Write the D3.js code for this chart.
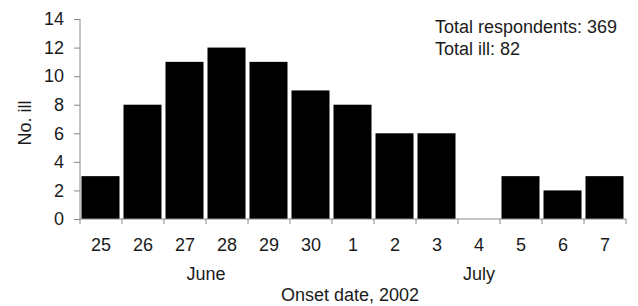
<!DOCTYPE html>
<html>
<head>
<meta charset="utf-8">
<script src="https://cdn.jsdelivr.net/npm/d3@7"></script>
<style>
  body { margin: 0; background: #fff; }
  svg text { font-family: "Liberation Sans", Arial, sans-serif; fill: #1a1a1a; }
</style>
</head>
<body>
<div id="chart"></div>
<script>
// onset days, 25 June .. 7 July 2002
var days = ["25", "26", "27", "28", "29", "30", "1", "2", "3", "4", "5", "6", "7"];
var ill = [3, 8, 11, 12, 11, 9, 8, 6, 6, 0, 3, 2, 3];
var months = [
  { name: "June", from: "25", to: "30" },
  { name: "July", from: "1", to: "7" }
];
var yTicks = [0, 2, 4, 6, 8, 10, 12, 14];
var notes = ["Total respondents: 369", "Total ill: 82"];

var W = 638, H = 306;
var plotL = 80, plotR = 626, plotT = 19, plotB = 219;
var fs = "18px";

var svg = d3.select("#chart").append("svg")
    .attr("width", W).attr("height", H);

var x = d3.scaleBand().domain(days).range([plotL, plotR]).padding(0);
var y = d3.scaleLinear().domain([0, 14]).range([plotB, plotT]);

var axisCol = "#8a8a8a";

// bars
svg.selectAll("rect.bar").data(ill).enter().append("rect")
    .attr("class", "bar")
    .attr("x", function(d, i) { return x(days[i]) + 1.5; })
    .attr("width", x.bandwidth() - 4)
    .attr("y", function(d) { return y(d); })
    .attr("height", function(d) { return plotB - y(d); })
    .attr("fill", "#000");

// y axis
var yAxis = svg.append("g")
    .attr("transform", "translate(" + plotL + ",0)")
    .call(d3.axisLeft(y).tickValues(yTicks).tickSize(6).tickPadding(10));
yAxis.select(".domain").attr("stroke", axisCol).attr("d", "M0," + plotT + "V" + plotB);
yAxis.selectAll(".tick line").attr("stroke", axisCol);
yAxis.selectAll(".tick text").style("font-size", fs).attr("font-family", null);

// x axis: ticks sit on band boundaries
var bounds = days.map(function(d) { return x(d); }).concat([plotR]);
svg.append("line")
    .attr("x1", plotL).attr("x2", plotR)
    .attr("y1", plotB).attr("y2", plotB)
    .attr("stroke", axisCol);
svg.selectAll("line.xt").data(bounds).enter().append("line")
    .attr("class", "xt")
    .attr("x1", function(d) { return d; }).attr("x2", function(d) { return d; })
    .attr("y1", plotB).attr("y2", plotB + 5)
    .attr("stroke", axisCol);

svg.selectAll("text.day").data(days).enter().append("text")
    .attr("class", "day")
    .attr("x", function(d) { return x(d) + x.bandwidth() / 2; })
    .attr("y", 251)
    .attr("text-anchor", "middle")
    .style("font-size", fs)
    .text(function(d) { return d; });

svg.selectAll("text.month").data(months).enter().append("text")
    .attr("class", "month")
    .attr("x", function(m) { return (x(m.from) + x(m.to) + x.bandwidth()) / 2; })
    .attr("y", 280)
    .attr("text-anchor", "middle")
    .style("font-size", fs)
    .text(function(m) { return m.name; });

svg.append("text")
    .attr("x", 350).attr("y", 301)
    .attr("text-anchor", "middle")
    .style("font-size", fs)
    .text("Onset date, 2002");

svg.append("text")
    .attr("transform", "translate(31,123) rotate(-90)")
    .attr("text-anchor", "middle")
    .style("font-size", fs)
    .text("No. ill");

svg.selectAll("text.note").data(notes).enter().append("text")
    .attr("class", "note")
    .attr("x", 435)
    .attr("y", function(d, i) { return 33 + i * 22; })
    .style("font-size", fs)
    .text(function(d) { return d; });
</script>
</body>
</html>
